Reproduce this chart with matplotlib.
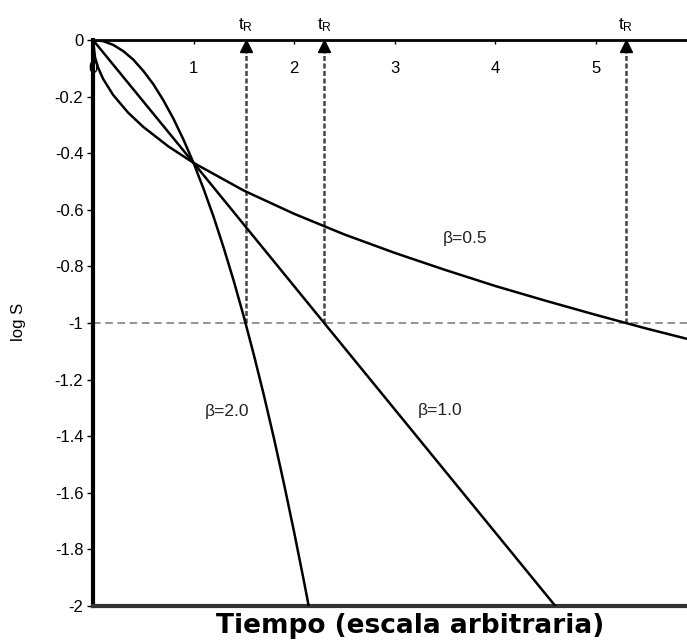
import matplotlib.pyplot as plt

# log S (time in arbitrary units)
t_b05 = [0, 0.02, 0.05, 0.1, 0.2, 0.35, 0.5, 0.75, 1.0, 1.5, 2.0, 2.5, 3.0, 3.5, 4.0, 4.5, 5.0, 5.5, 5.91]
s_b05 = [0, -0.061, -0.097, -0.137, -0.194, -0.257, -0.307, -0.376, -0.434, -0.532, -0.614,
         -0.687, -0.752, -0.812, -0.869, -0.921, -0.971, -1.019, -1.056]

t_b10 = [0, 1.0, 2.30, 4.60]
s_b10 = [0, -0.434, -1.0, -2.0]

t_b20 = [0, 0.1, 0.2, 0.3, 0.4, 0.5, 0.6, 0.7, 0.8, 0.9, 1.0, 1.1, 1.2, 1.3, 1.4, 1.5,
         1.6, 1.7, 1.8, 1.9, 2.0, 2.1, 2.146]
s_b20 = [0, -0.004, -0.017, -0.039, -0.069, -0.109, -0.156, -0.213, -0.278, -0.352, -0.434,
         -0.526, -0.625, -0.734, -0.851, -0.977, -1.112, -1.255, -1.407, -1.568, -1.737,
         -1.915, -2.0]

# reduction times (where log S = -1)
t_r = [1.52, 2.30, 5.30]
log_target = -1

x_ticks = [0, 1, 2, 3, 4, 5]
y_ticks = [0, -0.2, -0.4, -0.6, -0.8, -1, -1.2, -1.4, -1.6, -1.8, -2]
y_labels = ["0", "-0.2", "-0.4", "-0.6", "-0.8", "-1", "-1.2", "-1.4", "-1.6", "-1.8", "-2"]

curve_labels = ["β=0.5", "β=1.0", "β=2.0"]
label_pos = [(3.70, -0.70), (3.45, -1.31), (1.33, -1.314)]

plt.rcParams["font.family"] = ["Liberation Sans", "DejaVu Sans"]

fig = plt.figure(figsize=(6.87, 6.4), dpi=100)
ax = fig.add_axes([93 / 687, 1 - 606 / 640, 1 - 93 / 687, (606 - 40) / 640])
ax.set_xlim(0, 5.91)
ax.set_ylim(-2, 0)

# horizontal reference at log S = -1
ax.axhline(log_target, color="#777777", lw=1.1, ls=(0, (5, 3)), zorder=1)

# vertical dashed arrows up to the time axis
for tr in t_r:
    ax.plot([tr, tr], [log_target, -0.03], color="#444444", lw=1.8, ls=(0, (2, 1)), zorder=2)
    ax.plot([tr], [-0.021], marker="^", color="black", ms=8, clip_on=False, zorder=4)
    ax.text(tr, 0.02, r"$\mathregular{t_R}$", ha="center", va="bottom", fontsize=12.5)

for t, s in [(t_b05, s_b05), (t_b10, s_b10), (t_b20, s_b20)]:
    ax.plot(t, s, color="black", lw=1.8, zorder=3)

for txt, (x, y) in zip(curve_labels, label_pos):
    ax.text(x, y, txt, ha="center", va="center", fontsize=12.5, color="#222222")

# time axis sits on top, labels just below it
ax.xaxis.tick_top()
ax.set_xticks(x_ticks)
ax.tick_params(axis="x", direction="in", length=3, width=1, labeltop=False, labelbottom=False)
for x in x_ticks:
    ax.text(x, -0.099, str(x), ha="center", va="center", fontsize=12)

ax.set_yticks(y_ticks)
ax.set_yticklabels(y_labels)
ax.tick_params(axis="y", direction="out", length=4, width=1, labelsize=12, pad=3)

ax.spines["right"].set_visible(False)
ax.spines["top"].set_linewidth(2)
ax.spines["left"].set_linewidth(3)
ax.spines["bottom"].set_linewidth(3)
ax.spines["bottom"].set_color("#333333")

fig.text(19 / 687, 1 - 322 / 640, "log S", rotation=90, ha="center", va="center", fontsize=12)
fig.text(410 / 687, 1 - 626 / 640, "Tiempo (escala arbitraria)", ha="center", va="center",
         fontsize=19, fontweight="bold", family="DejaVu Sans")

fig.savefig("out.png", dpi=100)
